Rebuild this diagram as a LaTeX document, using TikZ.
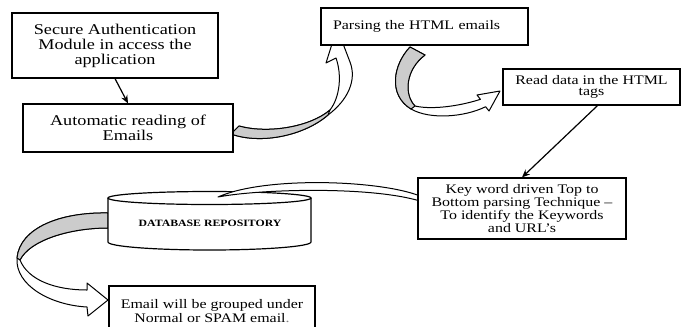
\documentclass[tikz,border=0pt]{standalone}
\usepackage{fontspec}
\setmainfont{Liberation Serif}[FakeStretch=1.22]
\usetikzlibrary{arrows.meta}
\tikzset{
  box/.style={draw, line width=0.9pt, fill=white, inner sep=0pt, align=center},
  bigtxt/.style={font=\fontsize{11.2}{11.25}\selectfont},
  smalltxt/.style={font=\fontsize{9.8}{9.9}\selectfont},
  blockarrow/.style={draw, line width=0.75pt, fill=white, line join=round},
  backside/.style={draw, line width=0.75pt, fill=gray!40, line join=round},
  link/.style={line width=0.9pt, -{Stealth[length=6pt,width=5pt]}},
  dbline/.style={line width=0.9pt, fill=white},
}
\begin{document}
\begin{tikzpicture}[x=0.75pt,y=0.75pt,yscale=-1]
\useasboundingbox (0,0) rectangle (689,326);

% curved block arrows (behind the boxes)
% A: Automatic reading -> Parsing
\path[blockarrow] (231,134) .. controls (262,145) and (305,135) .. (328,115)
   .. controls (348,100) and (357,80) .. (350,62) -- (337,28) -- (326,63) -- (336,58)
   .. controls (342,75) and (340,97) .. (330,110)
   .. controls (310,127) and (268,134) .. (239,126) -- cycle;
\path[backside] (231,134) .. controls (262,145) and (305,135) .. (328,115) -- (330,110)
   .. controls (310,127) and (268,134) .. (239,126) -- cycle;

% B: Parsing -> Read data
\path[blockarrow] (410,47) .. controls (393,65) and (388,95) .. (411,109)
   .. controls (430,120) and (465,117) .. (485.6,106.7) -- (489,111) -- (500,91) -- (477,95) -- (480.4,99.3)
   .. controls (460,106) and (432,110) .. (415,106)
   .. controls (404,95) and (405,70) .. (425,55) -- cycle;
\path[backside] (410,47) .. controls (393,65) and (388,95) .. (411,109) -- (415,106)
   .. controls (404,95) and (405,70) .. (425,55) -- cycle;

% D: Database -> Email grouped
\path[blockarrow] (108,213) .. controls (60,212) and (20,228) .. (17,258)
   .. controls (15,285) and (50,305) .. (87,307) -- (88,316) -- (108,300) -- (87,283) -- (87,290)
   .. controls (55,290) and (28,280) .. (20,260)
   .. controls (30,240) and (70,228) .. (108,228) -- cycle;
\path[backside] (108,213) .. controls (60,212) and (20,228) .. (17,258) -- (20,260)
   .. controls (30,240) and (70,228) .. (108,228) -- cycle;

% boxes
\node[box, bigtxt, minimum width=154.5pt, minimum height=48.75pt] (b1) at (115,45.5)
  {Secure Authentication\\Module in access the\\application};
\node[box, bigtxt, minimum width=157.5pt, minimum height=36pt] (b2) at (128,128)
  {Automatic reading of\\Emails};
\node[box, smalltxt, minimum width=155.25pt, minimum height=27.75pt, inner xsep=9pt,
      text width=137.25pt, align=left] (b3) at (424.5,26.5) {Parsing the HTML emails};
\node[box, smalltxt, minimum width=132.75pt, minimum height=27pt,
      font=\fontsize{9.8}{8.6}\selectfont] (b4) at (591.5,87)
  {Read data in the HTML\\tags};

% database cylinder
\path[dbline, draw] (108,198) -- (108,242)
   .. controls (108,246.4) and (153.4,250) .. (209.5,250)
   .. controls (265.6,250) and (311,246.4) .. (311,242) -- (311,198);
\path[dbline, draw] (108,198) .. controls (108,194.4) and (153.4,191.5) .. (209.5,191.5)
   .. controls (265.6,191.5) and (311,194.4) .. (311,198)
   .. controls (311,201.6) and (265.6,204.5) .. (209.5,204.5)
   .. controls (153.4,204.5) and (108,201.6) .. (108,198) -- cycle;
\node[font=\bfseries\fontsize{7.25}{8}\selectfont] (db) at (210,223) {DATABASE REPOSITORY};

% C: Keyword box -> Database (thin arc)
\path[blockarrow] (420,196) .. controls (380,180) and (265,176) .. (218,197)
   .. controls (260,189) and (370,186) .. (420,201) -- cycle;

\node[box, smalltxt, minimum width=156pt, minimum height=45.75pt] (b5) at (522,208.5)
  {Key word driven Top to\\Bottom parsing Technique –\\To identify the Keywords\\and URL’s};
\node[box, smalltxt, minimum width=154.5pt, minimum height=37.5pt] (b6) at (212,311)
  {Email will be grouped under\\Normal or SPAM email\textcolor{gray}{.}};

% straight connectors
\draw[link] (b1.south) -- (b2.north);
\draw[link] ([xshift=4.5pt]b4.south) -- (b5.north);
\end{tikzpicture}
\end{document}
